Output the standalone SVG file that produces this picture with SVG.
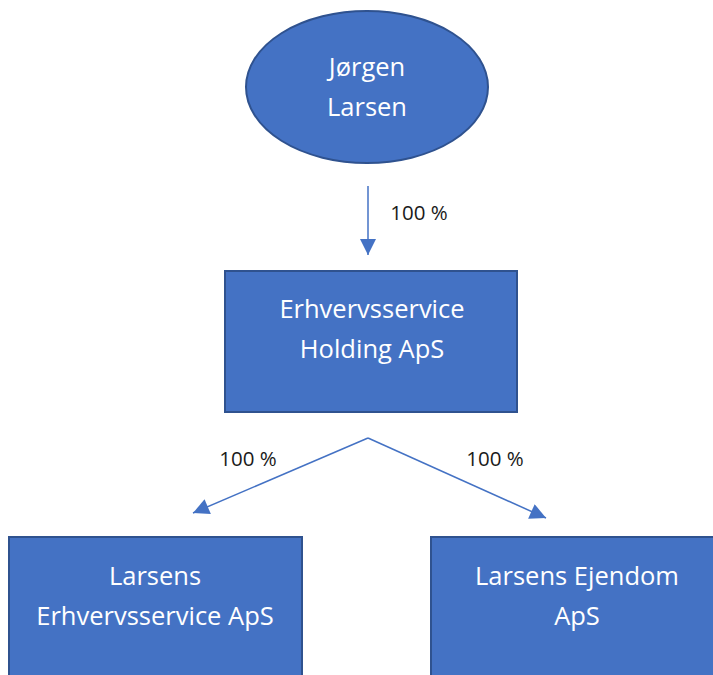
<svg xmlns="http://www.w3.org/2000/svg" width="713" height="675" viewBox="0 0 713 675">
  <style>
    .shape { fill: #4472C4; stroke: #2F528F; stroke-width: 2; }
    .label { font-family: "Open Sans", "Noto Sans", sans-serif; font-size: 25.5px; fill: #FFFFFF; text-anchor: middle; }
    .pct { font-family: "Open Sans", "Noto Sans", sans-serif; font-size: 20.5px; fill: #1A1A1A; text-anchor: middle; }
    .edge { stroke: #4472C4; stroke-width: 1.5; fill: none; marker-end: url(#arrow); }
  </style>
  <defs>
    <marker id="arrow" viewBox="0 0 10 10" refX="10" refY="5" markerWidth="17" markerHeight="16" markerUnits="userSpaceOnUse" orient="auto">
      <path d="M0,0 L10,5 L0,10 Z" fill="#4472C4"/>
    </marker>
  </defs>

  <rect width="713" height="675" fill="#FFFFFF"/>

  <g id="edges">
    <line class="edge" x1="368" y1="186" x2="368" y2="255"/>
    <line class="edge" x1="368" y1="438" x2="193" y2="513"/>
    <line class="edge" x1="368" y1="438" x2="546" y2="518"/>
    <text class="pct" x="419" y="220">100 %</text>
    <text class="pct" x="248" y="466">100 %</text>
    <text class="pct" x="495" y="466">100 %</text>
  </g>

  <g id="node-jorgen">
    <ellipse class="shape" cx="367" cy="87" rx="121" ry="76"/>
    <text class="label" x="367" y="76">Jørgen</text>
    <text class="label" x="367" y="116">Larsen</text>
  </g>

  <g id="node-holding">
    <rect class="shape" x="225" y="271" width="292" height="141"/>
    <text class="label" x="372" y="318">Erhvervsservice</text>
    <text class="label" x="372" y="358">Holding ApS</text>
  </g>

  <g id="node-erhvervsservice">
    <rect class="shape" x="9" y="537" width="293" height="160"/>
    <text class="label" x="155" y="585">Larsens</text>
    <text class="label" x="155" y="625">Erhvervsservice ApS</text>
  </g>

  <g id="node-ejendom">
    <rect class="shape" x="431" y="537" width="300" height="160"/>
    <text class="label" x="577" y="585">Larsens Ejendom</text>
    <text class="label" x="577" y="625">ApS</text>
  </g>
</svg>
